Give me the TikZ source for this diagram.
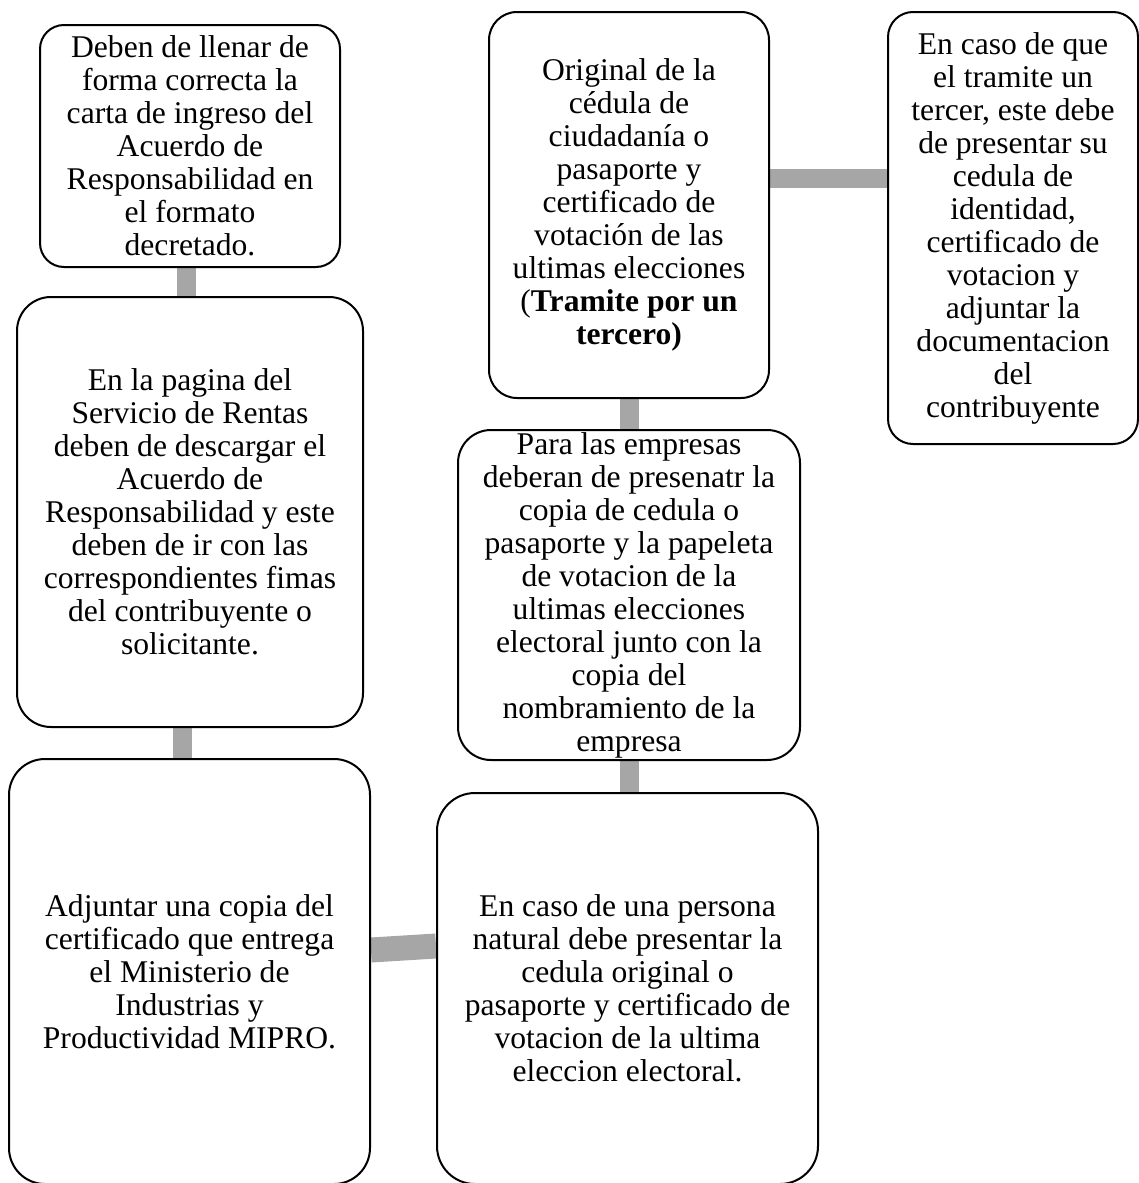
\documentclass[tikz,border=0pt]{standalone}
\usepackage{fontspec}
\setmainfont{Liberation Serif}
\usepackage{xcolor}
\usetikzlibrary{positioning, calc, backgrounds}
\definecolor{linkgray}{HTML}{A6A6A6}

\begin{document}
\begin{tikzpicture}[x=0.5pt, y=-0.5pt, every node/.style={font=\fontsize{15.8pt}{16.5pt}\selectfont}]
      \tikzstyle{box}=[rectangle, draw, line width=1pt, fill=white, align=center, inner sep=0pt]
      \tikzstyle{link}=[linkgray, line width=9.5pt]
      \useasboundingbox (0,0) rectangle (1139,1183);
      % left column
      \node[box, rounded corners=12pt, minimum width=150pt, minimum height=121pt] (carta) at (190,146) {Deben de llenar de\\forma correcta la\\carta de ingreso del\\Acuerdo de\\Responsabilidad en\\el formato\\decretado.};
      \node[box, rounded corners=17pt, minimum width=173pt, minimum height=215pt] (descarga) at (190,512) {En la pagina del\\Servicio de Rentas\\deben de descargar el\\Acuerdo de\\Responsabilidad y este\\deben de ir con las\\correspondientes fimas\\del contribuyente o\\solicitante.};
      \node[box, rounded corners=18pt, minimum width=180.5pt, minimum height=212.5pt] (mipro) at (189.5,971.5) {Adjuntar una copia del\\certificado que entrega\\el Ministerio de\\Industrias y\\Productividad MIPRO.};
      % middle column
      \node[box, rounded corners=19pt, minimum width=190.5pt, minimum height=195.5pt] (natural) at (627.5,988.5) {En caso de una persona\\natural debe presentar la\\cedula original o\\pasaporte y certificado de\\votacion de la ultima\\eleccion electoral.};
      \node[box, rounded corners=16.5pt, minimum width=171pt, minimum height=165pt] (empresas) at (629,595) {Para las empresas\\deberan de presenatr la\\copia de cedula o\\pasaporte y la papeleta\\de votacion de la\\ultimas elecciones\\electoral junto con la\\copia del\\nombramiento de la\\empresa};
      \node[box, rounded corners=14pt, minimum width=140pt, minimum height=193pt] (original) at (629,205) {Original de la\\cédula de\\ciudadanía o\\pasaporte y\\certificado de\\votación de las\\ultimas elecciones\\(\textbf{Tramite por un}\\\textbf{tercero)}};
      % right column
      \node[box, rounded corners=12.5pt, minimum width=125pt, minimum height=216pt] (tercero) at (1013,228) {En caso de que\\el tramite un\\tercer, este debe\\de presentar su\\cedula de\\identidad,\\certificado de\\votacion y\\adjuntar la\\documentacion\\del\\contribuyente};
      \begin{scope}[on background layer]
        \draw[link] ([xshift=-2pt]carta.south) -- ([xshift=-2pt]descarga.north);
        \draw[link] ([xshift=-4pt]descarga.south) -- ([xshift=-3.75pt]mipro.north);
        \draw[link, line width=12.5pt] ([yshift=10.75pt]mipro.east) -- ([yshift=21.25pt]natural.west);
        \draw[link] (empresas.south) -- (empresas.south |- natural.north);
        \draw[link] (original.south) -- (empresas.north);
        \draw[link] ([yshift=13.25pt]original.east) -- ([yshift=24.75pt]tercero.west);
      \end{scope}
    \end{tikzpicture}
\end{document}
